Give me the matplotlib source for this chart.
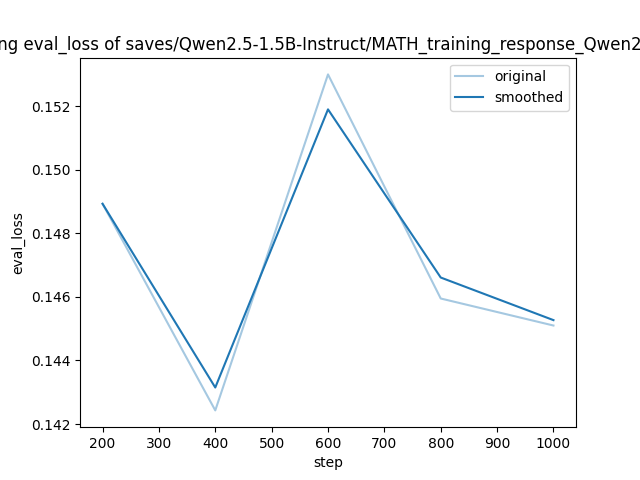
import matplotlib
matplotlib.use("Agg")
import matplotlib.pyplot as plt

steps = [200, 400, 600, 800, 1000]
original = [0.14893, 0.14243, 0.15300, 0.14595, 0.14510]
smoothed = [0.14893, 0.14315, 0.15190, 0.14661, 0.14527]

title = "training eval_loss of saves/Qwen2.5-1.5B-Instruct/MATH_training_response_Qwen2.5-1.5B"

plt.figure(figsize=(6.4, 4.8), dpi=100)
plt.plot(steps, original, color="#1f77b4", alpha=0.4, label="original")
plt.plot(steps, smoothed, color="#1f77b4", label="smoothed")
plt.title(title)
plt.xlabel("step")
plt.ylabel("eval_loss")
plt.legend()
plt.savefig("out.png", dpi=100)
